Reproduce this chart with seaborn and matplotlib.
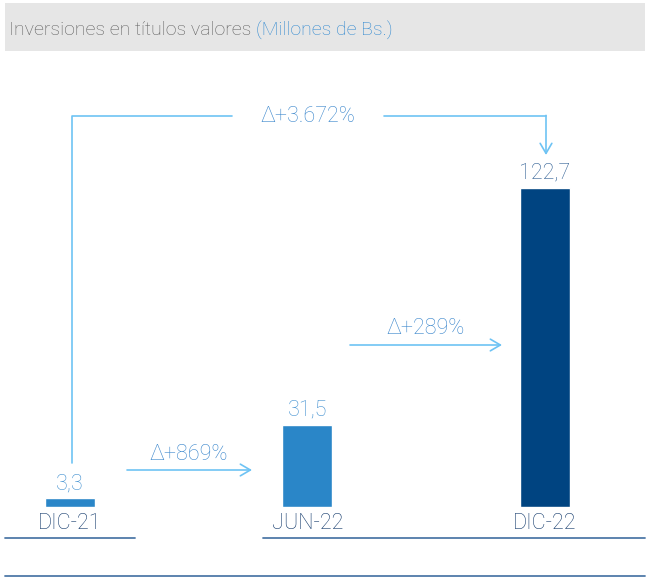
import matplotlib
matplotlib.use("Agg")
import matplotlib.pyplot as plt
import seaborn as sns
import pandas as pd
from matplotlib.patches import Rectangle

categories = ["DIC-21", "JUN-22", "DIC-22"]
values = [3.3, 31.5, 122.7]
value_labels = ["3,3", "31,5", "122,7"]
deltas = ["Δ+869%", "Δ+289%", "Δ+3.672%"]
title_main = "Inversiones en títulos valores "
title_unit = "(Millones de Bs.)"

bar_colors = ["#2a86c8", "#2a86c8", "#004481"]
label_colors = ["#3f8fd0", "#3f8fd0", "#2f5f94"]
arrow_col = "#6ec3f4"
delta_col = "#3a86cc"
cat_col = "#12396b"
rule_col = "#4f7aa8"

sns.set_theme(style="white")
plt.rcParams["font.family"] = ["Roboto", "DejaVu Sans"]

W, H = 648, 579
fig = plt.figure(figsize=(W / 100, H / 100), dpi=100)

# bar axes: baseline at y=507px, 2.6 px per unit
top_px = 60
ax = fig.add_axes([0, (H - 507) / H, 1, (507 - top_px) / H])
df = pd.DataFrame({"cat": categories, "val": values})
sns.barplot(data=df, x="cat", y="val", hue="cat", palette=bar_colors,
            width=50 / 237.5, legend=False, ax=ax, saturation=1)
ax.set_xlim(-70 / 237.5, (648 - 70) / 237.5)
ax.set_ylim(0, (507 - top_px) / 2.6)
ax.set_xlabel("")
ax.set_ylabel("")
ax.set_yticks([])
for s in ax.spines.values():
    s.set_visible(False)
ax.tick_params(axis="x", length=0, pad=4, labelsize=15.5, labelcolor=cat_col)
for t in ax.get_xticklabels():
    t.set_fontweight("light")
ax.patch.set_alpha(0)
for i, (v, lab) in enumerate(zip(values, value_labels)):
    ax.annotate(lab, (i, v), xytext=(0, 3), textcoords="offset points",
                ha="center", va="bottom", fontsize=15.5, color=label_colors[i],
                fontweight="light")

# overlay axes in pixel coordinates for decorations
ov = fig.add_axes([0, 0, 1, 1], zorder=-1)
ov.set_xlim(0, W)
ov.set_ylim(H, 0)
ov.axis("off")
ov.add_patch(Rectangle((5, 3), 640, 48, color="#e6e6e6", lw=0))
t1 = ov.text(9, 30, title_main, fontsize=14, color="#5f5f5f", va="center",
             ha="left", fontweight="light")
fig.canvas.draw()
bb = t1.get_window_extent()
x_end = bb.x1
ov.text(x_end, 30, title_unit, fontsize=14, color="#2f88d0", va="center",
        ha="left", fontweight="light",
        transform=matplotlib.transforms.blended_transform_factory(
            matplotlib.transforms.IdentityTransform(), ov.transData))

# rules below categories
ov.plot([5, 135], [538, 538], color=rule_col, lw=1.3)
ov.plot([263, 645], [538, 538], color=rule_col, lw=1.3)
ov.plot([5, 645], [576, 576], color=rule_col, lw=1.3)

ap = dict(arrowstyle="->,head_length=0.6,head_width=0.35", color=arrow_col,
          lw=1.2, shrinkA=0, shrinkB=0)
# 869%
ov.annotate("", xy=(252, 470), xytext=(127, 470), arrowprops=ap)
ov.text(189, 454, deltas[0], fontsize=15.5, color=delta_col, ha="center",
        va="center", fontweight="light")
# 289%
ov.annotate("", xy=(502, 345), xytext=(350, 345), arrowprops=ap)
ov.text(426, 328, deltas[1], fontsize=15.5, color=delta_col, ha="center",
        va="center", fontweight="light")
# bracket 3.672%
ov.plot([72, 72, 232], [463, 116, 116], color=arrow_col, lw=1.2)
ov.plot([384, 546], [116, 116], color=arrow_col, lw=1.2)
ov.annotate("", xy=(546, 155), xytext=(546, 115.4), arrowprops=ap)
ov.text(308, 117, deltas[2], fontsize=15.5, color=delta_col, ha="center",
        va="center", fontweight="light")

fig.savefig("out.png", dpi=100)
